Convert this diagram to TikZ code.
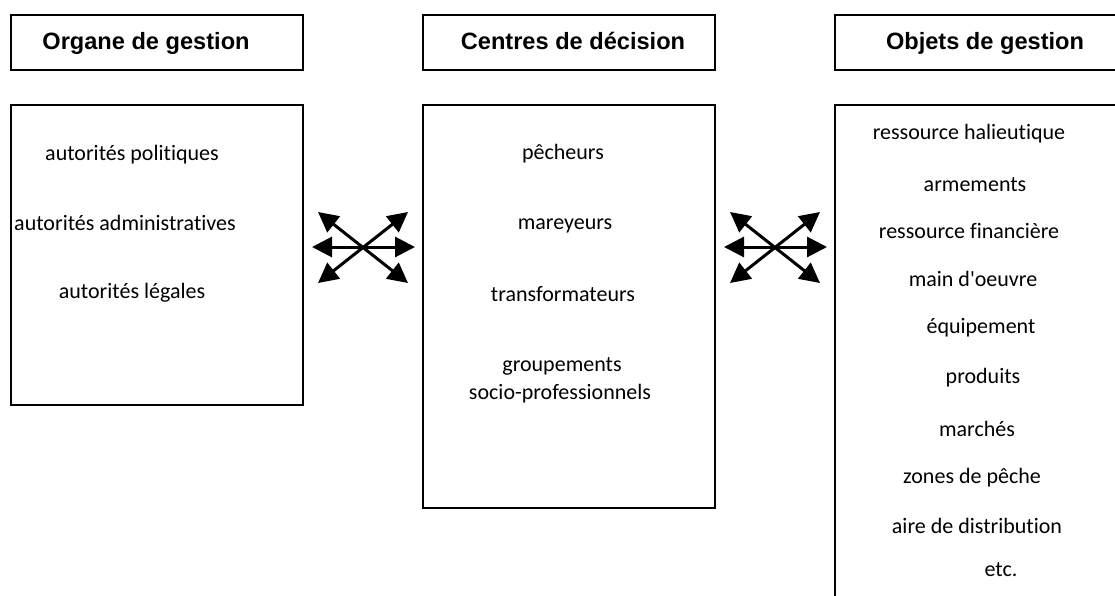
\documentclass[tikz,border=0pt]{standalone}
\usepackage{fontspec}
\setmainfont{Carlito}[Ligatures=NoCommon]
\newfontfamily\headfont{Liberation Sans}
\usetikzlibrary{arrows.meta}

\begin{document}
\begin{tikzpicture}[x=1pt,y=-1pt,
        box/.style={draw,line width=1.3pt,inner sep=0pt,minimum width=292pt},
        head/.style={font=\headfont\bfseries\fontsize{23.6}{28}\selectfont,anchor=base,inner sep=0pt},
        item/.style={font=\fontsize{22}{26}\selectfont,anchor=mid,inner sep=0pt,yshift=-4pt},
        link/.style={{Triangle[length=20pt,width=20pt]}-{Triangle[length=20pt,width=20pt]},line width=3pt}]
    \useasboundingbox (0,0) rectangle (1115,596);
    \clip (0,0) rectangle (1115,596);
    % en-tetes
    \node[box,minimum height=55pt] (hOrg) at (157,42.5) {};
    \node[box,minimum height=55pt] (hCen) at (569,42.5) {};
    \node[box,minimum height=55pt] (hObj) at (981,42.5) {};
    \node[head] (tOrg) at (146,50) {Organe de gestion};
    \node[head] (tCen) at (573,50) {Centres de d\'ecision};
    \node[head] (tObj) at (985,50) {Objets de gestion};
    % cadres
    \node[box,minimum height=300pt] (org) at (157,255) {};
    \node[box,minimum height=403pt] (cen) at (569,306.5) {};
    \node[box,minimum height=560pt] (obj) at (981,385) {};
    % organe de gestion
    \node[item] (o1) at (132,154) {autorités politiques};
    \node[item] (o2) at (125,224) {autorités administratives};
    \node[item] (o3) at (132,292) {autorités légales};
    % centres de decision
    \node[item] (c1) at (563,153) {pêcheurs};
    \node[item] (c2) at (565,223) {mareyeurs};
    \node[item] (c3) at (563,295) {transformateurs};
    \node[item] (c4) at (562,365) {groupements};
    \node[item] (c5) at (560,393) {socio-professionnels};
    % objets de gestion
    \node[item] (b1) at (969,133) {ressource halieutique};
    \node[item] (b2) at (975,185) {armements};
    \node[item] (b3) at (969,232) {ressource financière};
    \node[item] (b4) at (973,280) {main d\textquotesingle oeuvre};
    \node[item] (b5) at (981,327) {équipement};
    \node[item] (b6) at (983,377) {produits};
    \node[item] (b7) at (977,430) {marchés};
    \node[item] (b8) at (972,477) {zones de pêche};
    \node[item] (b9) at (977,527) {aire de distribution};
    \node[item] (b10) at (1001,570) {etc.};
    % fleches
    \foreach \cx/\nm in {363/a,775/b}{
        \coordinate (\nm W) at (\cx-51,247);
        \coordinate (\nm E) at (\cx+52,247);
        \coordinate (\nm NW) at (\cx-45,212);
        \coordinate (\nm NE) at (\cx+45,212);
        \coordinate (\nm SW) at (\cx-45,283);
        \coordinate (\nm SE) at (\cx+45,283);
        \draw[link] (\nm W) -- (\nm E);
        \draw[link] (\nm NW) -- (\nm SE);
        \draw[link] (\nm NE) -- (\nm SW);
    }
\end{tikzpicture}
\end{document}
